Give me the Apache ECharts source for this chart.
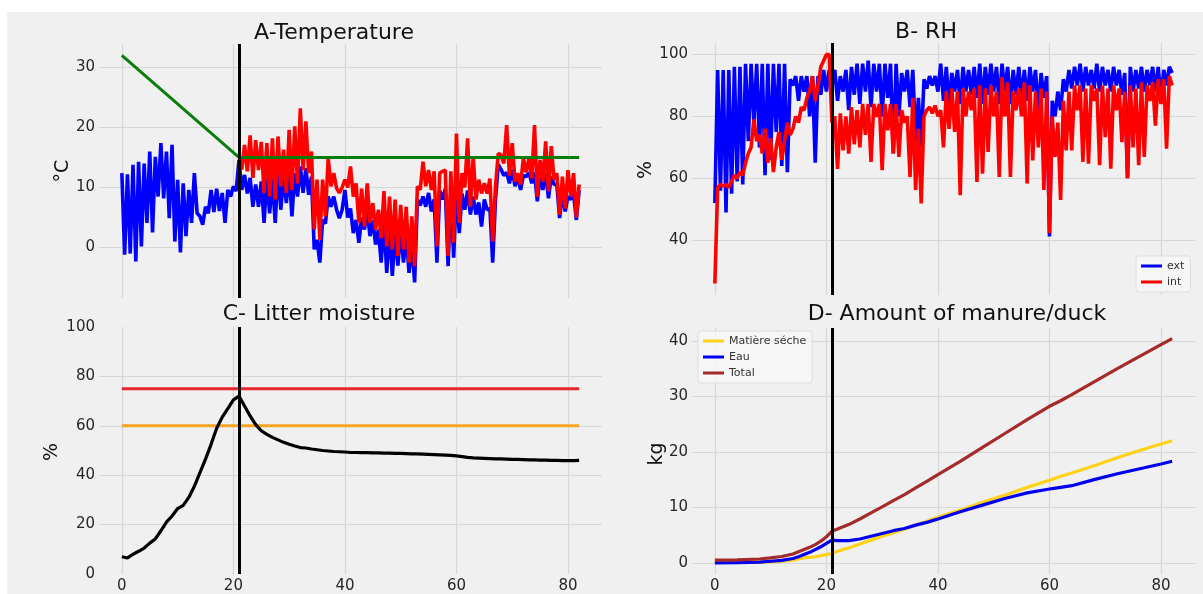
<!DOCTYPE html>
<html><head><meta charset="utf-8">
<script src="https://cdn.jsdelivr.net/npm/echarts@6/dist/echarts.min.js"></script>
<style>html,body{margin:0;padding:0;background:#fff}#c{width:1203px;height:594px}</style>
</head><body><div id="c"></div>
<script>
// ---------- DATA ----------
const xTicks = [0, 20, 40, 60, 80];
const coverDay = 21;               // vertical black line
// A - Temperature : half-day samples from day 0 (ext) / day 21 (int)
const tempExt = [12.4,-1.2,12.2,-1.0,13.8,-2.3,14.3,0.2,14.0,4.1,16.0,2.5,15.1,8.5,17.4,8.2,16.0,4.9,17.1,1.0,
  11.3,-0.8,10.7,1.9,9.6,4.1,12.4,5.7,5.2,3.8,6.8,5.7,9.6,5.9,9.8,6.1,9.1,4.1,9.6,8.5,
  10.2,9.4,14.6,9.6,12.1,9.0,11.6,6.8,10.5,6.8,11.0,4.1,11.5,5.7,11.5,4.1,13.2,6.3,11.8,7.4,
  12.7,5.2,12.4,8.5,13.5,9.1,13.2,8.8,11.8,-0.3,1.3,-2.5,4.6,4.0,8.5,6.8,8.5,6.3,4.9,6.3,
  9.6,5.0,6.5,2.4,4.6,0.8,5.0,3.0,6.0,1.9,4.5,0.5,3.0,-2.5,4.5,-4.2,3.5,-4.7,2.5,-3.0,
  3.0,-2.5,2.0,-4.2,0.5,-5.8,8.0,7.0,8.5,6.8,9.1,6.0,8.0,-2.5,9.5,8.0,9.8,-3.1,9.0,-1.7,
  10.0,2.4,9.0,6.3,9.5,5.5,8.5,5.5,7.5,3.5,8.0,6.3,6.5,-2.5,8.0,13.8,13.0,12.0,12.5,10.7,
  13.0,10.2,11.8,9.6,12.0,11.8,12.5,10.7,12.5,7.7,12.0,9.6,12.5,8.2,11.8,10.5,10.5,4.9,9.0,6.0,
  8.5,8.0,9.0,4.6,9.5];
const tempInt = [14.5,13.0,17.1,12.7,18.7,11.6,17.9,12.9,17.6,9.1,17.4,8.5,18.2,8.0,18.5,10.2,16.3,9.1,
  19.6,9.6,20.2,10.7,23.2,12.9,21.0,12.4,16.0,3.0,11.3,1.3,11.3,5.2,14.9,10.2,12.4,9.9,9.1,10.0,
  11.3,10.0,13.5,8.5,10.7,4.1,9.8,3.5,10.7,4.1,7.4,3.0,6.3,1.6,9.4,0.2,8.5,-0.3,8.0,-1.4,
  7.1,-0.3,6.8,-2.5,5.2,-3.1,10.2,9.6,14.3,10.2,12.9,9.6,12.7,0.2,12.4,12.7,12.9,-1.4,12.7,0.8,
  19.0,4.1,12.4,10.0,18.2,6.8,15.1,8.0,11.3,9.0,10.7,9.0,11.5,1.0,10.2,15.7,15.4,14.0,20.4,12.0,
  17.4,11.0,12.4,10.5,14.9,12.5,14.9,11.5,20.4,8.5,14.6,11.0,17.7,9.4,16.9,11.3,12.4,5.5,11.8,6.5,
  12.9,8.5,12.4,5.0,10.5];
const setpointX = [0, 21, 82];
const setpointT = [32, 15, 15];
// B - RH : half-day samples from day 0
const rhExt = [52,95,56,95,49,95,55,96,59,96,58,97,72,97,78,97,70,97,61,97,
  66,97,75,97,64,97,62,92,90,93,85,93,88,93,80,93,65,93,87,95,
  88,95,90,95,85,93,88,95,82,96,87,97,84,97,88,98,83,97,88,97,
  80,97,86,97,68,97,80,94,88,95,83,95,72,86,70,92,89,93,90,93,
  88,97,85,96,84,94,88,95,84,96,88,95,87,96,86,97,84,96,87,97,
  88,96,84,97,88,96,84,95,87,96,86,95,85,96,88,95,82,94,86,93,
  41.2,85,80,88,82,92,88,95,89,96,90,97,88,96,90,95,89,97,88,96,
  90,95,88,96,90,95,87,94,60,96,88,95,89,96,88,95,90,96,88,96,
  86,95,90,96,94];
const rhInt = [26,57,58,57.5,58,57,59,61,60,62,61,65,68,70,79,72,74,68,76,65,
  73,62,70,75,66,72,78,74,76,80,78,83,82,86,88,93,85,90,96,98,
  100,100,78,80,63,81,69,80,68,83,71,82,70,84,74,84,65.3,84,79.8,84,
  62.6,84,75.5,84,68,84,66.9,82,78,80,60.4,86,56.2,76,51.9,80,82,83,81,83.5,
  80,82,70,88,76,89,75,88,54.5,89,80,88,82,89,58.8,90,61.5,89,68.5,90,
  80,88,60.4,92.7,80,91,60.4,88,82,89,80,91,58.3,90,65.8,88,70,89,56.2,88,
  42.3,80,66.9,78,53,85,69,88,69,90,82,90,65.3,89,64.7,90,85,89,64.2,90,
  73.3,89,63.1,90,82,89,71.7,88,60,90,70,89,64.2,91,66.9,90,85,91,77,92,
  84,92,69.6,93,90];
// C - Litter moisture : daily samples, day 0..82
const litterMoisture = [7.0,6.5,8.0,9.2,10.5,12.5,14.2,17.5,21.0,23.5,26.5,27.8,31.0,35.5,41.0,46.5,52.5,59.0,63.5,67.0,
  70.5,72.0,68.0,64.0,60.5,58.0,56.5,55.3,54.3,53.3,52.5,51.8,51.2,51.0,50.6,50.3,50.0,49.8,49.6,49.5,
  49.4,49.2,49.2,49.1,49.1,49.0,49.0,48.9,48.9,48.8,48.8,48.7,48.6,48.6,48.5,48.4,48.3,48.2,48.1,48.0,
  47.8,47.5,47.2,47.0,46.9,46.8,46.7,46.6,46.6,46.5,46.4,46.4,46.3,46.2,46.2,46.1,46.1,46.0,46.0,45.9,
  45.9,45.9,46.0];
const limitX = [0, 82];
const limitHigh = [75, 75];
const limitLow = [60, 60];
// D - Amount of manure per duck
const manureX   = [0,4,8,10,12,14,15,16,17,18,19,20,21,22,24,26,28,30,32,34,36,38,40,44,48,52,56,60,62,64,68,72,76,80,82];
const dryMatter = [0.1,0.1,0.15,0.2,0.3,0.5,0.7,0.9,1.0,1.1,1.3,1.5,1.7,2.1,2.7,3.4,4.1,4.8,5.4,6.1,6.8,7.5,8.2,9.5,10.9,12.2,13.6,14.9,15.6,16.2,17.5,18.9,20.2,21.4,22.0];
const water     = [0,0.05,0.15,0.3,0.45,0.8,1.1,1.5,1.9,2.4,2.9,3.5,4.1,4.0,4.0,4.3,4.8,5.3,5.8,6.2,6.8,7.3,7.9,9.2,10.4,11.6,12.6,13.3,13.6,13.9,15.0,16.0,16.9,17.8,18.3];
const totalManure = [0.5,0.55,0.7,0.9,1.15,1.6,2.0,2.4,2.8,3.3,3.9,4.7,5.7,6.1,6.9,7.9,9.0,10.1,11.2,12.3,13.5,14.7,15.9,18.3,20.8,23.3,25.8,28.2,29.2,30.3,32.6,34.9,37.1,39.3,40.4];

// ---------- helpers ----------
const halfStep = 0.5;
const pairsFrom = (start, step, vals) => vals.map((v, i) => [start + i * step, v]);
const pairsXY = (xs, ys) => xs.map((x, i) => [x, ys[i]]);

const FONT = '"DejaVu Sans", sans-serif';
const GRID_COLOR = '#d6d6d6';
const grids = [
  {left: 99,  top: 44,  width: 503, height: 254},
  {left: 692, top: 43,  width: 503, height: 252},
  {left: 99,  top: 327, width: 503, height: 252},
  {left: 692, top: 328, width: 503, height: 250}
];
const yRanges = [[-8.4, 33.9], [22.3, 103.7], [0, 100], [-2.0, 42.3]];

function xAxisFor(i, showLabels) {
  return {
    type: 'value', gridIndex: i, min: -4.1, max: 86.1,
    axisLine: {show: false}, axisTick: {show: false},
    axisLabel: {show: showLabels, showMinLabel: false, showMaxLabel: false, margin: 5,
      fontFamily: FONT, fontSize: 15, color: '#262626',
      formatter: v => xTicks.includes(v) ? String(v) : ''},
    splitLine: {show: true, showMinLine: false, showMaxLine: false, lineStyle: {color: GRID_COLOR, width: 1.2}}
  };
}
function yAxisFor(i) {
  return {
    type: 'value', gridIndex: i, min: yRanges[i][0], max: yRanges[i][1],
    axisLine: {show: false}, axisTick: {show: false},
    axisLabel: {showMinLabel: i === 2, showMaxLabel: i === 2, margin: 4,
      fontFamily: FONT, fontSize: 15, color: '#262626'},
    splitLine: {show: true, showMinLine: false, showMaxLine: false, lineStyle: {color: GRID_COLOR, width: 1.2}}
  };
}
const vline = {
  silent: true, symbol: ['none', 'none'], label: {show: false}, animation: false,
  lineStyle: {color: '#000', width: 3, type: 'solid'},
  emphasis: {disabled: true},
  data: [{xAxis: coverDay}]
};
function line(name, idx, data, color, width, extra) {
  return Object.assign({
    name, type: 'line', xAxisIndex: idx, yAxisIndex: idx, data,
    showSymbol: false, symbol: 'none', animation: false, silent: true,
    lineStyle: {color, width}, itemStyle: {color},
    emphasis: {disabled: true}
  }, extra || {});
}

const series = [
  line('Text', 0, pairsFrom(0, halfStep, tempExt), '#0000ff', 3.6),
  line('Tint', 0, pairsFrom(coverDay, halfStep, tempInt), '#ff0000', 3.6),
  line('Tconsigne', 0, pairsXY(setpointX, setpointT), '#0a7d0a', 3, {markLine: vline}),
  line('ext', 1, pairsFrom(0, halfStep, rhExt), '#0000ff', 3.6),
  line('int', 1, pairsFrom(0, halfStep, rhInt), '#ff0000', 3.6, {markLine: vline}),
  line('lim75', 2, pairsXY(limitX, limitHigh), '#e8262b', 3),
  line('lim60', 2, pairsXY(limitX, limitLow), '#f4a623', 3),
  line('moisture', 2, pairsFrom(0, 1, litterMoisture), '#000000', 3.2, {markLine: vline}),
  line('Matière séche', 3, pairsXY(manureX, dryMatter), '#ffd21a', 3.2),
  line('Eau', 3, pairsXY(manureX, water), '#0000ee', 3.2),
  line('Total', 3, pairsXY(manureX, totalManure), '#a52a2a', 3.2, {markLine: vline})
];

const legendBase = {
  orient: 'vertical', icon: 'rect', itemWidth: 21, itemHeight: 3, itemGap: 4,
  selectedMode: false,
  textStyle: {fontFamily: FONT, fontSize: 11, color: '#333', lineHeight: 12},
  backgroundColor: 'rgba(248,248,248,0.8)', borderColor: '#dddddd', borderWidth: 1, borderRadius: 3,
  padding: [4, 6, 4, 5]
};

function txt(text, x, y, size, rot) {
  return {type: 'text', x, y, rotation: rot || 0, silent: true,
    style: {text, font: size + 'px ' + FONT, fill: '#111', align: 'center', verticalAlign: 'middle'}};
}

const chart = echarts.init(document.getElementById('c'), null, {renderer: 'canvas'});
chart.setOption({
  backgroundColor: '#f0f0f0',
  animation: false,
  grid: grids,
  xAxis: [xAxisFor(0, false), xAxisFor(1, false), xAxisFor(2, true), xAxisFor(3, true)],
  yAxis: [yAxisFor(0), yAxisFor(1), yAxisFor(2), yAxisFor(3)],
  legend: [
    Object.assign({}, legendBase, {data: ['ext', 'int'], left: 1136, top: 256}),
    Object.assign({}, legendBase, {data: ['Matière séche', 'Eau', 'Total'], left: 698, top: 331})
  ],
  graphic: [
    {type: 'rect', shape: {x: 0, y: 0, width: 1203, height: 12}, style: {fill: '#ffffff'}, silent: true},
    {type: 'rect', shape: {x: 0, y: 0, width: 7, height: 594}, style: {fill: '#ffffff'}, silent: true},
    txt('A-Temperature', 334, 33, 22),
    txt('B- RH', 926, 32, 22),
    txt('C- Litter moisture', 319, 314, 22),
    txt('D- Amount of manure/duck', 957, 314, 22),
    txt('°C', 63, 171, 19, Math.PI / 2),
    txt('%', 646, 170, 19, Math.PI / 2),
    txt('%', 52, 452, 19, Math.PI / 2),
    txt('kg', 657, 454, 19, Math.PI / 2)
  ],
  series
});
</script></body></html>
